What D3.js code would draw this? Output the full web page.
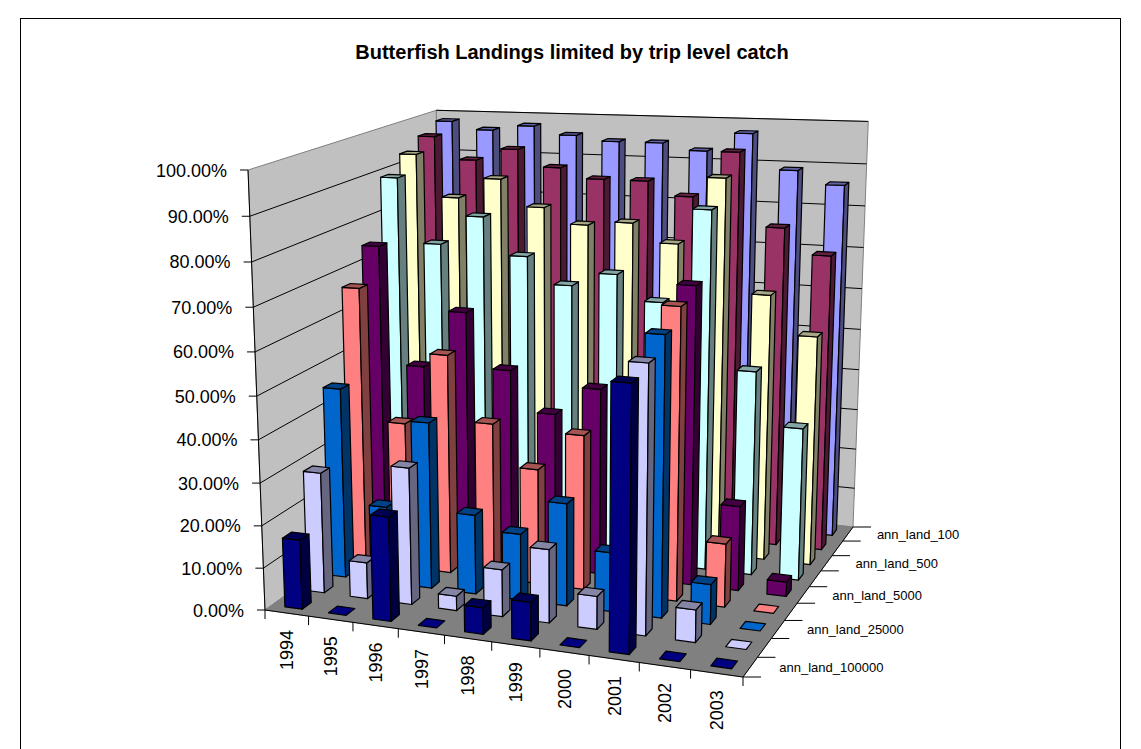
<!DOCTYPE html>
<html><head><meta charset="utf-8">
<script src="https://cdn.jsdelivr.net/npm/d3@7/dist/d3.min.js"></script>
<style>html,body{margin:0;padding:0;background:#fff}svg{display:block}text{font-family:"Liberation Sans",Arial,sans-serif;fill:#000}</style>
</head><body><svg id="c" width="1141" height="749"></svg>
<script>
const title = "Butterfish Landings limited by trip level catch";
const years = ["1994","1995","1996","1997","1998","1999","2000","2001","2002","2003"];
const seriesNames = ["ann_land_100000","ann_land_50000","ann_land_25000","ann_land_10000","ann_land_5000","ann_land_1000","ann_land_500","ann_land_250","ann_land_100"];
const seriesLabels = ["ann_land_100000","","ann_land_25000","","ann_land_5000","","ann_land_500","","ann_land_100"];
const seriesColors = ["#000080","#CCCCFF","#0066CC","#FF8080","#660066","#CCFFFF","#FFFFCC","#993366","#9999FF"];
const yTicks = [0,.1,.2,.3,.4,.5,.6,.7,.8,.9,1];
const s100000 = [.164,0,.243,0,.061,.088,0,.59,0,0];
const s50000  = [.288,.086,.322,.034,.11,.17,.076,.605,.074,0];
const s25000  = [.457,.184,.396,.189,.156,.24,.138,.64,.092,0];
const s10000  = [.67,.354,.527,.373,.275,.366,.3,.677,.148,0];
const s5000   = [.748,.464,.603,.472,.376,.445,.3,.70,.20,.034];
const s1000   = [.893,.738,.809,.72,.657,.69,.631,.85,.485,.361];
const s500    = [.933,.831,.881,.817,.78,.79,.746,.904,.638,.548];
const s250    = [.961,.906,.936,.895,.871,.871,.838,.947,.774,.714];
const s100    = [.984,.965,.978,.958,.946,.946,.93,.975,.891,.86];
const table = [s100000,s50000,s25000,s10000,s5000,s1000,s500,s250,s100];

// Projective camera fitted to the plot box corners
const FL=[265,610], FR=[743,677], BR=[853,527], BL=[442,483], TFL=[248,170], VP=[561,8286];
function homography(p00,p10,p11,p01){
  const dx1=p10[0]-p11[0],dx2=p01[0]-p11[0],sx=p00[0]-p10[0]+p11[0]-p01[0];
  const dy1=p10[1]-p11[1],dy2=p01[1]-p11[1],sy=p00[1]-p10[1]+p11[1]-p01[1];
  const det=dx1*dy2-dx2*dy1;
  const g=(sx*dy2-dx2*sy)/det,h=(dx1*sy-sx*dy1)/det;
  return {a:p10[0]-p00[0]+g*p10[0],b:p01[0]-p00[0]+h*p01[0],c:p00[0],
          d:p10[1]-p00[1]+g*p10[1],e:p01[1]-p00[1]+h*p01[1],f:p00[1],g,h};
}
const H=homography(FL,FR,BR,BL);
// vertical column C = lambda*(VP,1), solved so that (0,0,1) lands on TFL
const lam=(TFL[1]-FL[1])/(VP[1]-TFL[1]);
function project(u,v,h){
  const w=H.g*u+H.h*v+1+lam*h;
  return [(H.a*u+H.b*v+H.c+lam*VP[0]*h)/w,(H.d*u+H.e*v+H.f+lam*VP[1]*h)/w];
}
const xBand=d3.scaleBand().domain(years).range([0,1]).paddingInner(.6).paddingOuter(.3);
const zBand=d3.scaleBand().domain(seriesNames).range([0,1]).paddingInner(.6).paddingOuter(.3);
const yS=d3.scaleLinear().domain([0,1]).range([0,1]);
const xT=d3.scaleLinear().domain([0,years.length]).range([0,1]);
const zT=d3.scaleLinear().domain([0,seriesNames.length]).range([0,1]);

const svg=d3.select("#c");
svg.append("rect").attr("x",20.5).attr("y",18.5).attr("width",1100).attr("height",760).attr("fill","#fff").attr("stroke","#000").attr("stroke-width",1);
svg.append("text").attr("x",572).attr("y",59).attr("text-anchor","middle").attr("font-size",20).attr("font-weight","bold").text(title);

const poly=(pts)=>pts.map(p=>p.join(",")).join(" ");
const P=(u,v,h)=>project(u,v,h);
svg.append("polygon").attr("points",poly([P(0,0,0),P(0,1,0),P(0,1,1),P(0,0,1)])).attr("fill","#C0C0C0").attr("stroke","#808080");
svg.append("polygon").attr("points",poly([P(0,1,0),P(1,1,0),P(1,1,1),P(0,1,1)])).attr("fill","#C0C0C0").attr("stroke","#808080");
svg.append("polygon").attr("points",poly([P(0,0,0),P(1,0,0),P(1,1,0),P(0,1,0)])).attr("fill","#808080").attr("stroke","#808080");

const line=(a,b,col="#000")=>svg.append("line").attr("x1",a[0]).attr("y1",a[1]).attr("x2",b[0]).attr("y2",b[1]).attr("stroke",col).attr("stroke-width",1);
yTicks.forEach(t=>{
  if(t>0&&t<1){line(P(0,0,yS(t)),P(0,1,yS(t)));}
  if(t>0){line(P(0,1,yS(t)),P(1,1,yS(t)));}
  const a=P(0,0,yS(t));
  line([a[0]-8,a[1]],a);
  svg.append("text").attr("x",a[0]-21).attr("y",a[1]+6.5).attr("text-anchor","end").attr("font-size",18).text(d3.format(".2%")(t));
});
line(P(0,0,0),P(0,0,1)); line(P(0,0,0),P(1,0,0)); line(P(1,0,0),P(1,1,0));
d3.range(years.length+1).forEach(i=>{
  const a=P(xT(i),0,0); line(a,[a[0],a[1]+9]);
  if(i<years.length){
    const m=P(xT(i+.5),0,0);
    svg.append("text").attr("transform",`translate(${m[0]+6.5},${m[1]+17}) rotate(-90)`).attr("text-anchor","end").attr("font-size",18).text(years[i]);
  }
});
d3.range(seriesNames.length+1).forEach(i=>{
  const a=P(1,zT(i),0); line(a,[a[0]+18,a[1]]);
});
seriesLabels.forEach((s,i)=>{
  if(!s) return;
  const m=P(1,zT(i+.5),0);
  svg.append("text").attr("x",m[0]+29).attr("y",m[1]+5).attr("font-size",13).text(s);
});

// bars, back row first, left to right
for(let s=seriesNames.length-1;s>=0;s--){
  const col=d3.color(seriesColors[s]);
  const side=d3.rgb(col.r*.5,col.g*.5,col.b*.5), top=d3.rgb(col.r*.65,col.g*.65,col.b*.65);
  years.forEach((yr,i)=>{
    const v=yS(table[s][i]);
    const u0=xBand(yr),u1=u0+xBand.bandwidth(),v0=zBand(seriesNames[s]),v1=v0+zBand.bandwidth();
    const g=svg.append("g").attr("stroke","#000").attr("stroke-width",1.2).attr("stroke-linejoin","round");
    if(v>0){
      g.append("polygon").attr("points",poly([P(u0,v0,0),P(u1,v0,0),P(u1,v0,v),P(u0,v0,v)])).attr("fill",col);
      g.append("polygon").attr("points",poly([P(u1,v0,0),P(u1,v1,0),P(u1,v1,v),P(u1,v0,v)])).attr("fill",side);
    }
    g.append("polygon").attr("points",poly([P(u0,v0,v),P(u1,v0,v),P(u1,v1,v),P(u0,v1,v)])).attr("fill",v>0?top:col);
  });
}
</script></body></html>
